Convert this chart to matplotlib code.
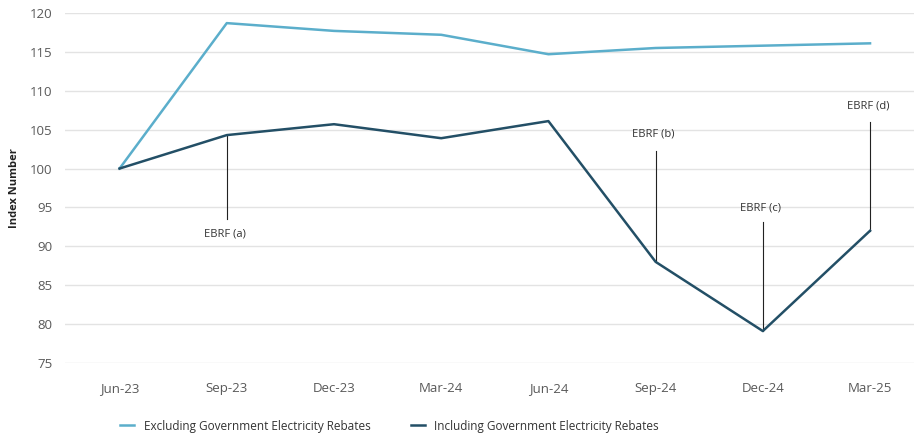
import matplotlib.pyplot as plt
from matplotlib import font_manager

# quarterly index, Jun-23 = 100
trimestres = ['Jun-23', 'Sep-23', 'Dec-23', 'Mar-24', 'Jun-24', 'Sep-24', 'Dec-24', 'Mar-25']
sem_rebates = [100, 118.7, 117.7, 117.2, 114.7, 115.5, 115.8, 116.1]
com_rebates = [100, 104.3, 105.7, 103.9, 106.1, 88.0, 79.1, 92.0]

# notas EBRF: (indice do trimestre, ponta da linha, posicao do texto)
notas_rotulos = ['EBRF (a)', 'EBRF (b)', 'EBRF (c)', 'EBRF (d)']
notas_idx = [1, 5, 6, 7]
notas_fim = [93.5, 102.3, 93.1, 106.0]
notas_texto = [91.6, 104.4, 94.9, 108.0]

disponiveis = {f.name for f in font_manager.fontManager.ttflist}
familia = [f for f in ['Liberation Sans Narrow', 'Open Sans', 'DejaVu Sans'] if f in disponiveis]
plt.rcParams['font.family'] = familia

cor_clara = '#5BAECB'
cor_escura = '#234F66'
cor_texto = '#595959'

fig = plt.figure(figsize=(9.14, 4.41), dpi=100)
ax = fig.add_axes([0.071, 0.177, 0.929, 0.7935])

x = list(range(len(trimestres)))
ax.plot(x, sem_rebates, color=cor_clara, lw=1.8, label='Excluding Government Electricity Rebates')
ax.plot(x, com_rebates, color=cor_escura, lw=1.8, label='Including Government Electricity Rebates')

# linhas das notas, do ponto ate o texto
for rot, i, fim, yt in zip(notas_rotulos, notas_idx, notas_fim, notas_texto):
    ax.plot([i, i], [com_rebates[i], fim], color='#222222', lw=0.8, zorder=1)
    ax.text(i - 0.02, yt, rot, ha='center', va='center', fontsize=8, color='#333333')

ax.set_xlim(-0.51, 7.41)
ax.set_ylim(75, 120)
ax.set_yticks(range(75, 121, 5))
ax.set_xticks(x)
ax.set_xticklabels(trimestres)
ax.grid(axis='y', color='#e3e3e3', lw=1)
ax.set_axisbelow(True)
for s in ax.spines.values():
    s.set_visible(False)
ax.tick_params(length=0, labelsize=9.5, colors=cor_texto)
ax.tick_params(axis='x', pad=14)
ax.tick_params(axis='y', pad=9)
ax.set_ylabel('Index Number', fontsize=8, fontweight='bold', color='#222222', labelpad=7)

fig.legend(loc='lower left', bbox_to_anchor=(0.12, -0.005), ncol=2, frameon=False,
           fontsize=8.5, handlelength=1.2, columnspacing=3.4, labelcolor='#333333')

fig.savefig('out.png', dpi=100)
